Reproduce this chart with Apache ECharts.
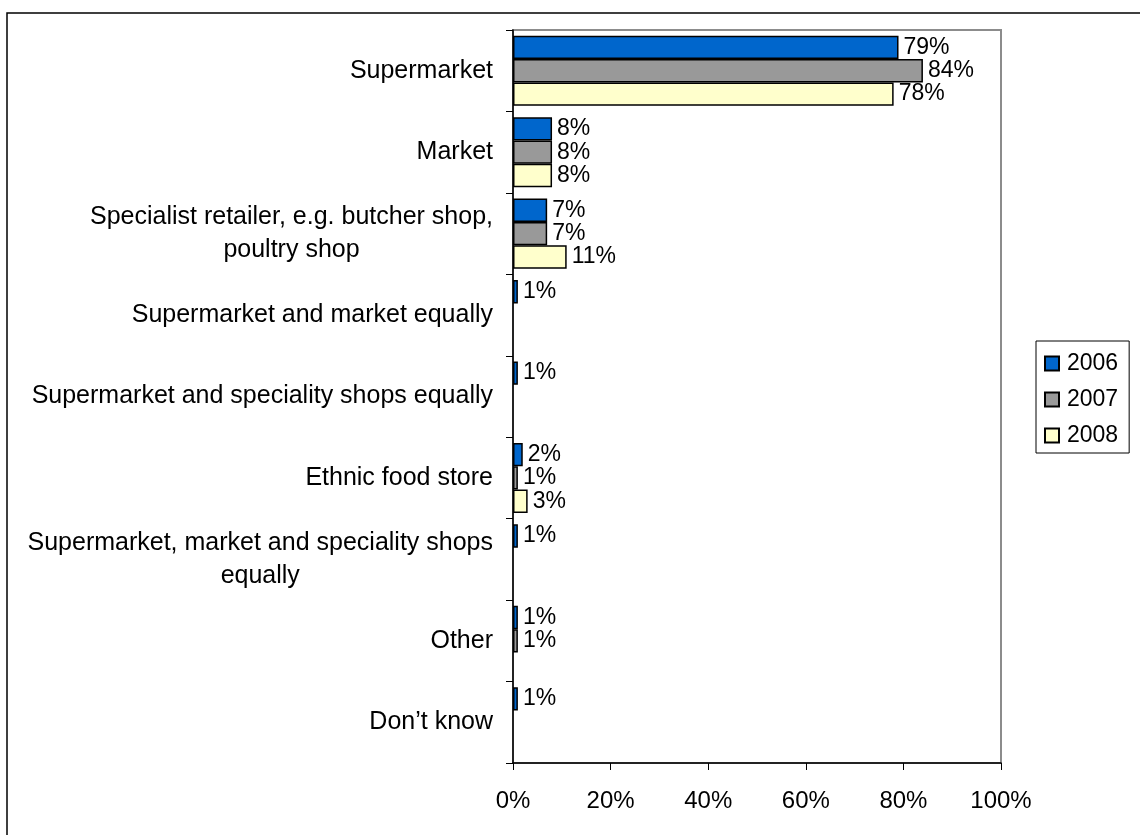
<!DOCTYPE html>
<html>
<head>
<meta charset="utf-8">
<script src="https://cdn.jsdelivr.net/npm/echarts@6/dist/echarts.min.js"></script>
<style>
  html, body { margin: 0; padding: 0; background: #fff; }
  #chart { width: 1140px; height: 835px; }
</style>
</head>
<body>
<div id="chart"></div>
<script>
// Where shoppers mainly buy: share of respondents per outlet type, by survey year
const categories = [
  'Supermarket',
  'Market',
  'Specialist retailer, e.g. butcher shop,\npoultry shop',
  'Supermarket and market equally',
  'Supermarket and speciality shops equally',
  'Ethnic food store',
  'Supermarket, market and speciality shops\nequally',
  'Other',
  'Don\u2019t know'
];
const years = ['2006', '2007', '2008'];
const values2006 = [79, 8, 7, 1, 1, 2, 1, 1, 1];
const values2007 = [84, 8, 7, null, null, 1, null, 1, null];
const values2008 = [78, 8, 11, null, null, 3, null, null, null];
const xTicks = [0, 20, 40, 60, 80, 100];

const colors = ['#0066CC', '#999999', '#FFFFCC'];
const FONT = 'Arial, "Liberation Sans", sans-serif';

function barSeries(name, data, color) {
  return {
    name: name,
    type: 'bar',
    data: data,
    barGap: '0%',
    barCategoryGap: '14%',
    itemStyle: { color: color, borderColor: '#000', borderWidth: 1.5 },
    label: {
      show: true,
      position: 'right',
      distance: 5,
      color: '#000',
      fontFamily: FONT,
      fontSize: 23,
      formatter: p => (p.value == null ? '' : p.value + '%')
    },
    emphasis: { disabled: true }
  };
}

const chart = echarts.init(document.getElementById('chart'), null, { renderer: 'canvas' });
chart.setOption({
  animation: false,
  backgroundColor: '#fff',
  graphic: [{
    type: 'rect',
    shape: { x: 7, y: 13, width: 1160, height: 860 },
    style: { fill: 'none', stroke: '#000', lineWidth: 1.5 },
    z: -1
  }],
  grid: {
    left: 513, right: 139, top: 30, bottom: 72,
    show: true, borderColor: '#8c8c8c', borderWidth: 2, backgroundColor: 'transparent'
  },
  legend: {
    orient: 'vertical',
    left: 1036, top: 341,
    data: years,
    icon: 'rect',
    itemWidth: 14, itemHeight: 14, itemGap: 13,
    padding: [11, 11, 6, 8],
    borderColor: '#000', borderWidth: 1,
    textStyle: { fontFamily: FONT, fontSize: 23, color: '#000', padding: [0, 0, 0, 3] },
    selectedMode: false
  },
  xAxis: {
    type: 'value',
    min: xTicks[0], max: xTicks[xTicks.length - 1], interval: 20,
    axisLine: { show: true, lineStyle: { color: '#000', width: 1.5 } },
    axisTick: { show: true, length: 7, lineStyle: { color: '#000' } },
    splitLine: { show: false },
    axisLabel: {
      margin: 26, color: '#000', fontFamily: FONT, fontSize: 24,
      formatter: v => v + '%'
    }
  },
  yAxis: {
    type: 'category',
    inverse: true,
    data: categories,
    axisLine: { show: true, lineStyle: { color: '#000', width: 1.5 } },
    axisTick: { show: true, length: 7, lineStyle: { color: '#000' } },
    axisLabel: {
      margin: 20, color: '#000', fontFamily: FONT, fontSize: 25,
      formatter: v => v.split('\n').map(s => '{c|' + s + '}').join('\n'),
      rich: { c: { align: 'center', fontFamily: FONT, fontSize: 25, lineHeight: 33, color: '#000' } }
    }
  },
  series: [
    barSeries(years[0], values2006, colors[0]),
    barSeries(years[1], values2007, colors[1]),
    barSeries(years[2], values2008, colors[2])
  ]
});
</script>
</body>
</html>
